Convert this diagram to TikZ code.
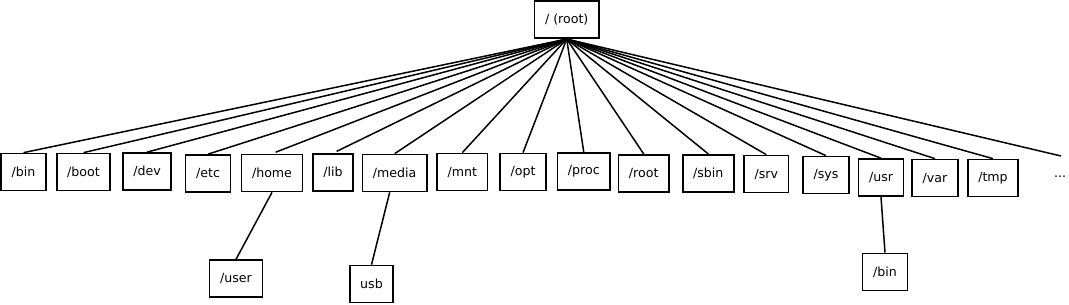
\documentclass[tikz,border=0pt]{standalone}
\usepackage{fontspec}
\setmainfont{DejaVu Sans}
\begin{document}
\begin{tikzpicture}[x=1pt, y=-1pt,
		dirbox/.style={draw, line width=1.7pt, inner xsep=10.5pt, minimum height=37pt, font=\fontsize{12.6}{14}\selectfont},
		link/.style={line width=1.5pt}]
		\useasboundingbox (0,0) rectangle (1069,305);

		\node[dirbox] (root) at (566.7,19.7) {/ (root)};

		\node[dirbox] (bin) at (23.5,172) {/bin};
		\node[dirbox] (boot) at (83.5,172) {/boot};
		\node[dirbox] (dev) at (147,171.5) {/dev};
		\node[dirbox] (etc) at (208,173.5) {/etc};
		\node[dirbox] (home) at (272,173) {/home};
		\node[dirbox] (lib) at (333,172.5) {/lib};
		\node[dirbox] (media) at (394.7,173) {/media};
		\node[dirbox] (mnt) at (462.3,172) {/mnt};
		\node[dirbox] (opt) at (523,172) {/opt};
		\node[dirbox] (proc) at (583.8,171.7) {/proc};
		\node[dirbox] (rootdir) at (643.7,173.3) {/root};
		\node[dirbox] (sbin) at (708.3,173.3) {/sbin};
		\node[dirbox] (srv) at (766.3,174) {/srv};
		\node[dirbox] (sys) at (826,175) {/sys};
		\node[dirbox] (usr) at (881,177.5) {/usr};
		\node[dirbox] (var) at (935,178) {/var};
		\node[dirbox] (tmp) at (993,178) {/tmp};
		\node[font=\fontsize{12.6}{14}\selectfont] (more) at (1060,177) {...};
		\coordinate (moreend) at (1061,156);

		\node[dirbox] (user) at (236,278.7) {/user};
		\node[dirbox] (usb) at (371.5,284) {usb};
		\node[dirbox] (usrbin) at (885,272) {/bin};

		\foreach \dir in {bin,boot,dev,etc,media,mnt,opt,proc,rootdir,sbin,srv,sys,usr,var,tmp}
			\draw[link] (root.south) -- (\dir.north);
		\draw[link, shorten >=4pt] (root.south) -- (home.north);
		\draw[link, shorten >=4pt] (root.south) -- (lib.north);
		\draw[link] (root.south) -- (moreend);

		\draw[link] (home.south) -- (user.north);
		\draw[link] ([xshift=-5pt]media.south) -- (usb.north);
		\draw[link] (usr.south) -- (usrbin.north);
	\end{tikzpicture}
\end{document}
